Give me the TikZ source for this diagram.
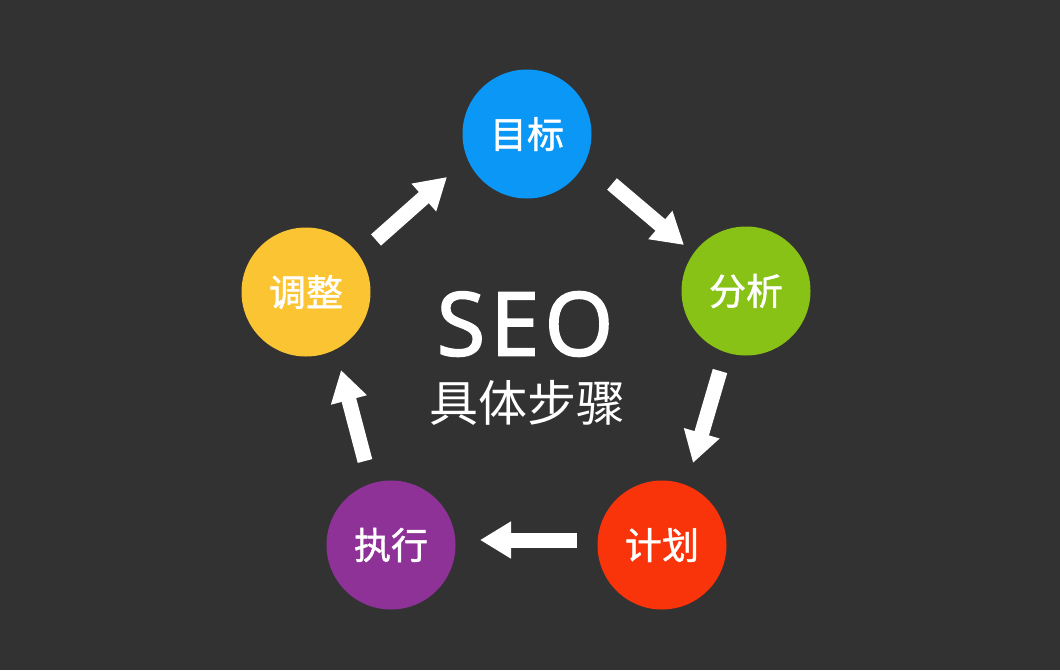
\documentclass[tikz,border=0pt]{standalone}
\usepackage{fontspec}
\setmainfont{Open Sans}
\newfontfamily\seofont{Open Sans}[FakeBold=2.2, LetterSpace=6]
\newfontfamily\cjk{Noto Sans CJK SC}
\newfontfamily\cjkm{Noto Sans CJK SC}[FakeBold=1.2]
\usetikzlibrary{arrows.meta}
\definecolor{bgc}{RGB}{50,50,50}
\definecolor{cblue}{RGB}{10,151,245}
\definecolor{cgreen}{RGB}{137,194,22}
\definecolor{cred}{RGB}{250,52,10}
\definecolor{cpurple}{RGB}{142,50,152}
\definecolor{cyellow}{RGB}{251,196,50}
\tikzset{
  stepcircle/.style={circle, minimum size=129pt, inner sep=0pt, text=white, font=\cjkm\fontsize{37}{37}\selectfont},
  blockarrow/.style={white, line width=15pt, -{Triangle[width=35pt,length=31pt]}},
}
\begin{document}
\begin{tikzpicture}[x=1pt,y=-1pt]
\fill[bgc] (0,0) rectangle (1060,670);
\useasboundingbox (0,0) rectangle (1060,670);
\node[stepcircle, fill=cblue]   (mubiao)  at (527,134) {目标};
\node[stepcircle, fill=cgreen]  (fenxi)   at (746,291) {分析};
\node[stepcircle, fill=cred]    (jihua)   at (662,545) {计划};
\node[stepcircle, fill=cpurple] (zhixing) at (391,545) {执行};
\node[stepcircle, fill=cyellow] (tiaozheng) at (306,292) {调整};
\node[text=white, font=\seofont\fontsize{88}{88}\selectfont, inner sep=0pt] (seo) at (525,324) {SEO};
\node[text=white, font=\cjk\fontsize{49}{49}\selectfont, inner sep=0pt] (sub) at (527,403) {具体步骤};
% arrow ends
\coordinate (a1s) at (376,240); \coordinate (a1e) at (447,177);
\coordinate (a2s) at (612,184); \coordinate (a2e) at (684,245);
\coordinate (a3s) at (720,371); \coordinate (a3e) at (693,463);
\coordinate (a4s) at (577,540); \coordinate (a4e) at (480,540);
\coordinate (a5s) at (365,461); \coordinate (a5e) at (341,370);
\draw[blockarrow] (a1s) -- (a1e);
\draw[blockarrow] (a2s) -- (a2e);
\draw[blockarrow] (a3s) -- (a3e);
\draw[blockarrow] (a4s) -- (a4e);
\draw[blockarrow] (a5s) -- (a5e);
\end{tikzpicture}
\end{document}
